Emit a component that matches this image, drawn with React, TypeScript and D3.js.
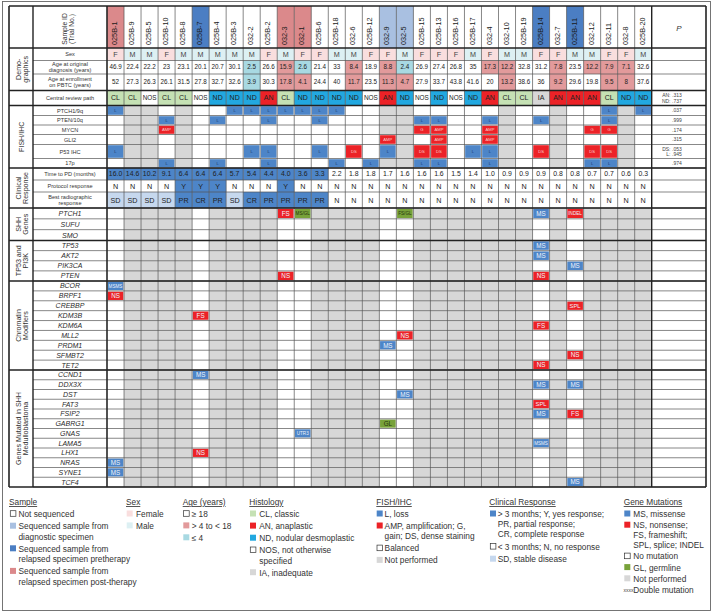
import React from 'react';
import * as d3 from 'd3';

// ---------------- DATA ----------------
const sampleIds = ['025B-1','025B-9','025B-5','025B-10','025B-8','025B-7','025B-4','025B-3','032-2','025B-2','032-3','032-1','025B-6','025B-18','032-6','025B-12','032-9','032-5','025B-15','025B-13','025B-16','025B-17','032-4','032-10','025B-19','025B-14','032-7','025B-11','032-12','032-11','032-8','025B-20'];
// post = relapsed post-therapy, pre = relapsed pretherapy, diag = diagnostic, none = not sequenced
const sampleType = ['post','none','none','none','none','pre','none','none','none','none','post','post','none','none','none','none','diag','diag','none','none','none','none','none','none','none','pre','none','pre','none','none','none','none'];
const sex = ['F','M','M','F','M','M','M','M','M','F','M','F','F','M','M','F','F','M','F','F','F','M','F','M','M','F','F','M','M','F','F','M'];
const ageAtDiagnosis = [46.9,22.4,22.2,23,23.1,20.1,20.7,30.1,2.5,26.6,15.9,2.6,21.4,33,8.4,18.9,8.8,2.4,26.9,27.4,26.8,35,17.3,12.2,32.8,31.2,7.8,23.5,12.2,7.9,7.1,32.6];
const ageAtEnrollment = [52,27.3,26.3,26.1,31.5,27.8,32.7,32.6,3.9,30.3,17.8,4.1,24.4,40,11.7,23.5,11.3,4.7,27.9,33.7,43.8,41.6,20,13.2,38.6,36,9.2,29.6,19.8,9.5,8,37.6];
const histology = ['CL','CL','NOS','CL','CL','NOS','ND','ND','ND','AN','CL','ND','ND','ND','ND','NOS','AN','ND','NOS','ND','NOS','ND','AN','CL','CL','IA','AN','AN','AN','CL','ND','ND'];
const histologyP = [['AN:', '.313'], ['ND:', '.737']];

// FISH / IHC: '' balanced, '-' not performed
const fishLabels = ['PTCH1/9q','PTEN/10q','MYCN','GLI2','P53 IHC','17p'];
const fishPTCH1 = ['L','-','-','','-','','','L','L','L','L','L','L','L','','','-','-','','','','','','-','','','-','','','L','-','L'];
const fishPTEN = ['','-','-','L','-','','L','','','L','','','L','','','','-','-','L','L','','','L','-','','L','-','','','L','-',''];
const fishMYCN = ['','-','-','AMP','-','','','','','','','','','','','','-','-','G','AMP','','','AMP','-','','','-','','G','G','-',''];
const fishGLI2 = ['','-','-','','-','','','','','','','','','','','','AMP','-','','AMP','','','AMP','-','','','-','','','','-',''];
const fishP53 = ['L','-','-','','-','','','','L','L','','','L','','DS','','L','-','DS','DS','','L','L','-','','DS','-','','DS','DS','-',''];
const fish17p = ['','-','-','L','-','','L','','','L','','','','L','','L','-','-','L','L','','','L','-','','','-','','L','L','-',''];
const fishP = [[['', '.037']], [['', '.999']], [['', '.174']], [['', '.315']], [['DS:', '.053'], ['L:', '.945']], [['', '.974']]];

// Clinical response
const timeToPD = [16.0,14.6,10.2,9.1,6.4,6.4,6.4,5.7,5.4,4.4,4.0,3.6,3.3,2.2,1.8,1.8,1.7,1.6,1.6,1.6,1.5,1.4,1.0,0.9,0.9,0.9,0.8,0.8,0.7,0.7,0.6,0.3];
const protocolResponse = ['N','N','N','N','Y','Y','Y','N','N','N','Y','N','N','N','N','N','N','N','N','N','N','N','N','N','N','N','N','N','N','N','N','N'];
const bestResponse = ['SD','SD','SD','SD','PR','CR','PR','SD','CR','PR','PR','PR','PR','N','N','N','N','N','N','N','N','N','N','N','N','N','N','N','N','N','N','N'];

// Gene mutations: [gene, sample, label]
const shhGenes = ['PTCH1','SUFU','SMO'];
const shhMutations = [['PTCH1','032-3','FS'],['PTCH1','032-1','MS/GL'],['PTCH1','032-5','FS/GL'],['PTCH1','025B-14','MS'],['PTCH1','025B-11','INDEL']];
const tp53Genes = ['TP53','AKT2','PIK3CA','PTEN'];
const tp53Mutations = [['TP53','025B-14','MS'],['AKT2','025B-14','MS'],['PIK3CA','025B-11','MS'],['PTEN','032-3','NS'],['PTEN','025B-14','NS']];
const chromatinGenes = ['BCOR','BRPF1','CREBBP','KDM3B','KDM6A','MLL2','PRDM1','SFMBT2','TET2'];
const chromatinMutations = [['BCOR','025B-1','MSMS'],['BRPF1','025B-1','NS'],['CREBBP','025B-11','SPL'],['KDM3B','025B-7','FS'],['KDM6A','025B-14','FS'],['MLL2','032-5','NS'],['PRDM1','032-9','MS'],['SFMBT2','025B-11','NS'],['TET2','025B-14','NS']];
const shhMbGenes = ['CCND1','DDX3X','DST','FAT3','FSIP2','GABRG1','GNAS','LAMA5','LHX1','NRAS','SYNE1','TCF4'];
const shhMbMutations = [['CCND1','025B-7','MS'],['DDX3X','025B-14','MS'],['DDX3X','025B-11','MS'],['DST','032-5','MS'],['FAT3','025B-14','SPL'],['FSIP2','025B-14','MS'],['FSIP2','025B-11','FS'],['GABRG1','032-9','GL'],['GNAS','032-1','UTR3'],['LAMA5','025B-14','MSMS'],['LHX1','025B-7','NS'],['NRAS','025B-1','MS'],['SYNE1','025B-1','MS'],['TCF4','025B-11','MS']];

// Legend labels
const legendSample = [['Not sequenced'],['Sequenced sample from','diagnostic specimen'],['Sequenced sample from','relapsed specimen pretherapy'],['Sequenced sample from','relapsed specimen post-therapy']];
const legendSex = [['Female'],['Male']];
const legendAge = [['\u2265 18'],['> 4 to < 18'],['\u2264 4']];
const legendHistology = [['CL, classic'],['AN, anaplastic'],['ND, nodular desmoplastic'],['NOS, not otherwise','specified'],['IA, inadequate']];
const legendFish = [['L, loss'],['AMP, amplification; G,','gain; DS, dense staining'],['Balanced'],['Not performed']];
const legendClinical = [['> 3 months; Y, yes response;','PR, partial response;','CR, complete response'],['< 3 months; N, no response'],['SD, stable disease']];
const legendGene = [['MS, missense'],['NS, nonsense;','FS, frameshift;','SPL, splice; INDEL'],['No mutation'],['GL, germline'],['Not performed'],['Double mutation']];

// ---------------- STYLE ----------------
const FONT = '"Liberation Sans", Arial, Helvetica, sans-serif';
const COL = {
  gray: '#d7d7d7', blue: '#4d85c8', red: '#ec2227', cyan: '#22a8e0', lightGreen: '#c5e1b4',
  green: '#78a23a', lightBlue: '#c6d8ee', female: '#f9dede', male: '#ddf0f3', agePink: '#e29a9b',
  ageCyan: '#a8d9e2', hdrPink: '#db898b', hdrBlue: '#4b7ec3', hdrLight: '#a9c0e1', text: '#222',
};

export default function App() {
  const x = d3.scaleBand<string>().domain(sampleIds).range([107, 651.7]).padding(0);
  const bw = x.bandwidth();
  const xl = (id: string) => x(id) as number;
  const cx = (id: string) => xl(id) + bw / 2;
  const X0 = 9, XS = 33, XL = 107, XP = 651.7, XR = 706, YT = 6, YB = 487;

  const stack = (start: number, hs: number[]) => {
    let y = start;
    return hs.map((h) => { const r = { y0: y, y1: y + h }; y += h; return r; });
  };
  const band = (genes: string[], y0: number, y1: number) => {
    const s = d3.scaleBand<string>().domain(genes).range([y0, y1]);
    return genes.map((g) => ({ y0: s(g) as number, y1: (s(g) as number) + s.bandwidth() }));
  };
  const demo = stack(48, [12.5, 13.5, 16.5]);
  const central = { y0: 90.5, y1: 105.5 };
  const fish = stack(105.5, [10, 9.5, 9.5, 10, 14, 9.5]);
  const clin = stack(168, [12, 12, 16]);
  const geneSections = [
    { genes: shhGenes, muts: shhMutations, rows: band(shhGenes, 208, 240.5) },
    { genes: tp53Genes, muts: tp53Mutations, rows: band(tp53Genes, 240.5, 281) },
    { genes: chromatinGenes, muts: chromatinMutations, rows: band(chromatinGenes, 281, 370) },
    { genes: shhMbGenes, muts: shhMbMutations, rows: band(shhMbGenes, 370, 487) },
  ];

  const fills: any[] = [];
  const texts: any[] = [];
  let k = 0;
  const T = (xx: number, yy: number, s: string, fs: number, o: any = {}) => {
    texts.push(
      <text key={'t' + k++} x={xx} y={yy} fontSize={fs} textAnchor={o.anchor || 'middle'} fill={o.fill || COL.text}
        fontStyle={o.italic ? 'italic' : undefined} transform={o.transform}>{s}</text>
    );
  };
  const R = (xx: number, yy: number, w: number, h: number, f: string) => {
    fills.push(<rect key={'r' + k++} x={xx} y={yy} width={w} height={h} fill={f} />);
  };
  const mid = (r: { y0: number; y1: number }) => (r.y0 + r.y1) / 2;

  // Header
  sampleIds.forEach((id, i) => {
    const t = sampleType[i];
    const f = t === 'post' ? COL.hdrPink : t === 'pre' ? COL.hdrBlue : t === 'diag' ? COL.hdrLight : null;
    if (f) R(xl(id), YT, bw, 48 - YT, f);
    T(0, 0, id, 7.3, { anchor: 'start', transform: `translate(${cx(id) + 1.6},45) rotate(-90)`, fill: '#1a1a1a' });
  });
  T(0, 0, 'Sample ID', 6.8, { transform: `translate(66.7,29) rotate(-90)`, fill: '#333' });
  T(0, 0, '(Trial No.)', 6.8, { transform: `translate(73.5,29) rotate(-90)`, fill: '#333' });
  T(679, 31, 'P', 8, { italic: true, fill: '#333' });

  // Row labels (small)
  const smallLabel = (r: { y0: number; y1: number }, lines: string[]) => {
    const m = mid(r);
    lines.forEach((l, j) => T(70, m + 2 + (j - (lines.length - 1) / 2) * 5.8, l, 5.6, { fill: '#333' }));
  };
  smallLabel(demo[0], ['Sex']);
  smallLabel(demo[1], ['Age at original', 'diagnosis (years)']);
  smallLabel(demo[2], ['Age at enrollment', 'on PBTC (years)']);
  smallLabel(central, ['Central review path']);
  fishLabels.forEach((l, i) => smallLabel(fish[i], [l]));
  smallLabel(clin[0], ['Time to PD (months)']);
  smallLabel(clin[1], ['Protocol response']);
  smallLabel(clin[2], ['Best radiographic', 'response']);

  // Demographics
  sampleIds.forEach((id, i) => {
    R(xl(id), demo[0].y0, bw, demo[0].y1 - demo[0].y0, sex[i] === 'F' ? COL.female : COL.male);
    T(cx(id), mid(demo[0]) + 2.6, sex[i], 7.2, { fill: '#444' });
    [ageAtDiagnosis, ageAtEnrollment].forEach((arr, r) => {
      const v = arr[i];
      const row = demo[r + 1];
      const f = v <= 4 ? COL.ageCyan : v < 18 ? COL.agePink : null;
      if (f) R(xl(id), row.y0, bw, row.y1 - row.y0, f);
      T(cx(id), mid(row) + 2.2, String(v), 6.3);
    });
    // Histology
    const h = histology[i];
    const hf = h === 'CL' ? COL.lightGreen : h === 'AN' ? COL.red : h === 'ND' ? COL.cyan : h === 'IA' ? COL.gray : null;
    if (hf) R(xl(id), central.y0, bw, central.y1 - central.y0, hf);
    T(cx(id), mid(central) + 2.4, h, h === 'NOS' ? 6.4 : 7);
  });
  histologyP.forEach((p, j) => {
    const yy = mid(central) + 1.8 + (j - 0.5) * 5.6;
    T(670.5, yy, p[0], 5, { anchor: 'end', fill: '#444' });
    T(672, yy, p[1], 5, { anchor: 'start', fill: '#444' });
  });

  // FISH
  const fishData = [fishPTCH1, fishPTEN, fishMYCN, fishGLI2, fishP53, fish17p];
  fishData.forEach((arr, r) => {
    const row = fish[r];
    sampleIds.forEach((id, i) => {
      const v = arr[i];
      if (v === '-') R(xl(id), row.y0, bw, row.y1 - row.y0, COL.gray);
      else if (v) {
        const isL = v === 'L';
        R(xl(id) + 0.7, row.y0 + 0.7, bw - 1.4, row.y1 - row.y0 - 1.4, isL ? COL.blue : COL.red);
        T(cx(id), mid(row) + 1.5, v, 4.2, { fill: isL ? '#1e3c70' : '#f8cccc' });
      }
    });
    const ps = fishP[r];
    ps.forEach((p, j) => {
      const yy = mid(row) + 1.8 + (j - (ps.length - 1) / 2) * 5.6;
      if (p[0]) T(670.5, yy, p[0], 5, { anchor: 'end', fill: '#444' });
      T(672, yy, p[1], 5, { anchor: 'start', fill: '#444' });
    });
  });

  // Clinical
  sampleIds.forEach((id, i) => {
    const t = timeToPD[i];
    if (t > 3) R(xl(id), clin[0].y0, bw, clin[0].y1 - clin[0].y0, COL.blue);
    T(cx(id), mid(clin[0]) + 2.4, t.toFixed(1), 6.9);
    const pr = protocolResponse[i];
    if (pr === 'Y') R(xl(id), clin[1].y0, bw, clin[1].y1 - clin[1].y0, COL.blue);
    T(cx(id), mid(clin[1]) + 2.6, pr, 7.2);
    const br = bestResponse[i];
    const bf = br === 'SD' ? COL.lightBlue : br === 'PR' || br === 'CR' ? COL.blue : null;
    if (bf) R(xl(id), clin[2].y0, bw, clin[2].y1 - clin[2].y0, bf);
    T(cx(id), mid(clin[2]) + 2.5, br, 7.2);
  });

  // Gene sections
  geneSections.forEach((sec) => {
    sec.genes.forEach((g, gi) => {
      const row = sec.rows[gi];
      T(70, mid(row) + 2.5, g, 7, { italic: true, fill: '#2a2a2a' });
      sampleIds.forEach((id, i) => {
        if (sampleType[i] === 'none') R(xl(id), row.y0, bw, row.y1 - row.y0, COL.gray);
      });
      sec.muts.filter((m) => m[0] === g).forEach((m) => {
        const id = m[1];
        const lab = m[2];
        const f = lab.includes('GL') ? COL.green : (lab === 'MS' || lab === 'MSMS' || lab === 'UTR3') ? COL.blue : COL.red;
        R(xl(id) + 0.7, row.y0 + 0.8, bw - 1.4, row.y1 - row.y0 - 1.6, f);
        const fs = lab.length <= 2 ? 6.3 : lab.length === 3 ? 5.8 : 4.6;
        T(cx(id), mid(row) + fs * 0.36, lab, fs, { fill: lab.includes('GL') ? '#26330f' : '#eef3fb' });
      });
    });
  });

  // Section labels (rotated)
  const sectionLabels = [
    { lines: ['Demo-', 'graphics'], y0: 48, y1: 90.5 },
    { lines: ['FISH/IHC'], y0: 105.5, y1: 168 },
    { lines: ['Clinical', 'Response'], y0: 168, y1: 208 },
    { lines: ['SHH', 'Genes'], y0: 208, y1: 240.5 },
    { lines: ['TP53 and', 'PI3K'], y0: 240.5, y1: 281 },
    { lines: ['Chromatin', 'Modifiers'], y0: 281, y1: 370 },
    { lines: ['Genes Mutated in SHH', 'Medulloblastoma'], y0: 370, y1: 487 },
  ];
  sectionLabels.forEach((s) => {
    const m = (s.y0 + s.y1) / 2;
    s.lines.forEach((l, j) => {
      const bx = 21.6 + (j - (s.lines.length - 1) / 2) * 7 + 2.5;
      T(0, 0, l, 7.1, { transform: `translate(${bx},${m}) rotate(-90)`, fill: '#333' });
    });
  });

  // Grid lines
  const lines: any[] = [];
  const L = (x1: number, y1: number, x2: number, y2: number, w: number, c: string) =>
    lines.push(<line key={'l' + k++} x1={x1} y1={y1} x2={x2} y2={y2} stroke={c} strokeWidth={w} />);
  const thinC = '#555', thickC = '#222';
  const allRows = [...demo, central, ...fish, ...clin, ...geneSections.flatMap((s) => s.rows)];
  allRows.forEach((r) => L(XS, r.y1, XR, r.y1, 0.7, thinC));
  sampleIds.forEach((id) => L(xl(id), YT, xl(id), YB, 0.7, thinC));
  [YT, 48, 90.5, 105.5, 168, 208, 240.5, 281, 370, YB].forEach((yy) => L(X0, yy, XR, yy, 1.6, thickC));
  [X0, XS, XL, XP, XR].forEach((xx) => L(xx, YT, xx, YB, xx === X0 || xx === XR ? 1.6 : 1.4, thickC));

  // Legend
  const legend: any[] = [];
  const LFS = 8.3;
  const group = (title: string, tx: number, sx: number, txt: number, items: string[][], sw: (string | null)[], LH: number, GAP: number, special?: number) => {
    legend.push(<text key={'g' + k++} x={tx} y={505} fontSize={LFS} fill="#333" style={{ textDecoration: 'underline' }}>{title}</text>);
    let y = 517;
    items.forEach((lns, i) => {
      const c = sw[i];
      if (special === i) {
        legend.push(<text key={'g' + k++} x={sx - 0.8} y={y - 0.8} fontSize={5} fill="#444">xxxx</text>);
      } else if (c === null) {
        legend.push(<rect key={'g' + k++} x={sx + 0.3} y={y - 6.3} width={5.6} height={5.6} fill="white" stroke="#333" strokeWidth={0.7} />);
      } else {
        legend.push(<rect key={'g' + k++} x={sx} y={y - 6.5} width={6} height={6} fill={c} />);
      }
      lns.forEach((l, j) => legend.push(<text key={'g' + k++} x={txt} y={y + j * LH} fontSize={LFS} fill="#333">{l}</text>));
      y += lns.length * LH + GAP;
    });
  };
  group('Sample', 9, 10, 18.5, legendSample, [null, COL.hdrLight, COL.hdrBlue, COL.hdrPink], 10.4, 1.8);
  group('Sex', 126, 126.7, 136, legendSex, [COL.female, COL.male], 10.3, 1.6);
  group('Age (years)', 182.7, 183.3, 191.7, legendAge, [null, COL.agePink, COL.ageCyan], 10.3, 1.6);
  group('Histology', 249.3, 250, 259.3, legendHistology, [COL.lightGreen, COL.red, COL.cyan, null, COL.gray], 10.3, 1.8);
  group('FISH/IHC', 376.3, 376.7, 384.6, legendFish, [COL.blue, COL.red, null, COL.gray], 10.4, 1.6);
  group('Clinical Response', 489.3, 490, 497.7, legendClinical, [COL.blue, null, COL.lightBlue], 10.2, 2.2);
  group('Gene Mutations', 623.7, 624.3, 633.3, legendGene, [COL.blue, COL.red, null, COL.green, COL.gray, null], 10.0, 1.2, 5);

  return (
    <svg width={714} height={612} viewBox="0 0 714 612" style={{ position: 'absolute', left: 0, top: 0, fontFamily: FONT }}>
      <rect x={0} y={0} width={714} height={612} fill="white" />
      <rect x={2.5} y={1.5} width={708} height={609} fill="none" stroke="#666" strokeWidth={0.9} />
      <rect x={X0} y={YT} width={XR - X0} height={YB - YT} fill="white" />
      {fills}
      {lines}
      {texts}
      {legend}
    </svg>
  );
}
